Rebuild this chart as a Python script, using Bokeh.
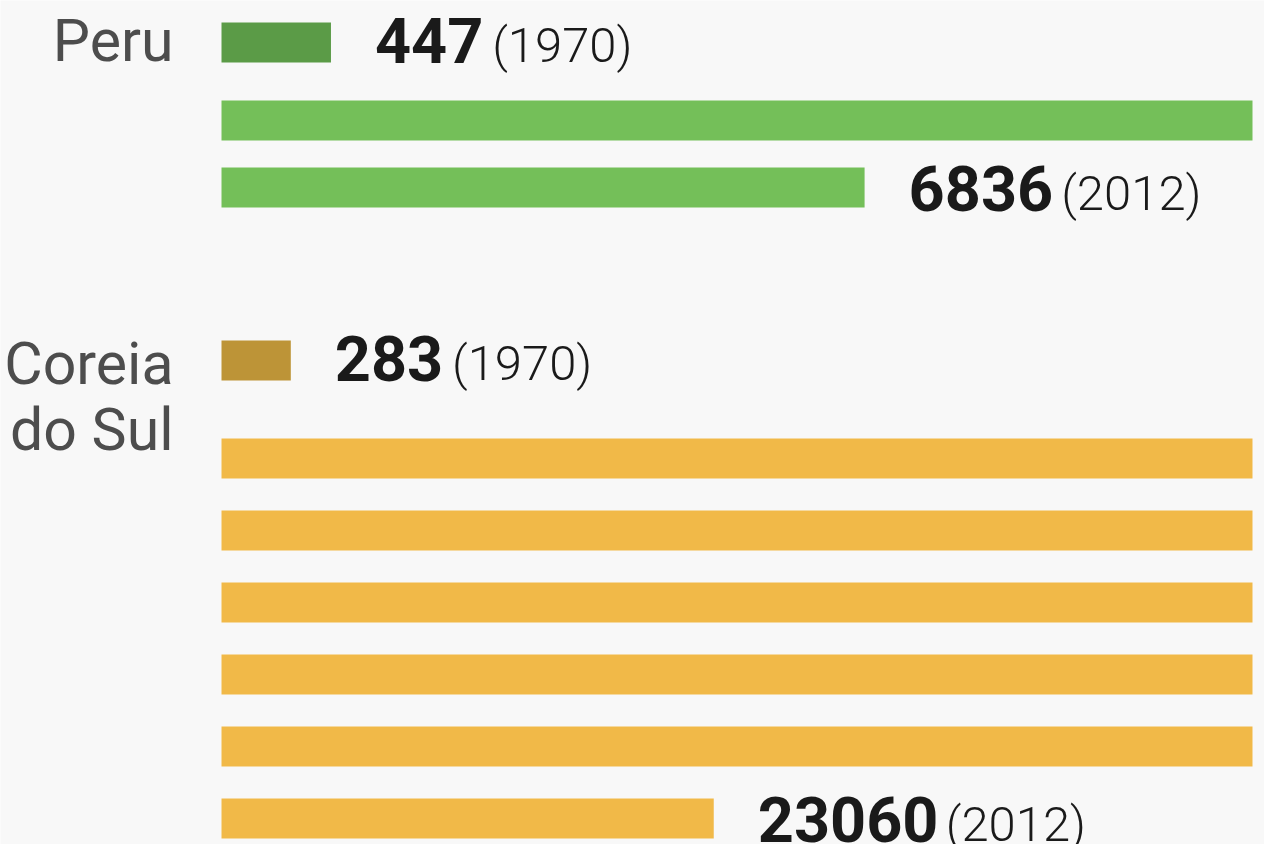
from bokeh.plotting import figure
from bokeh.models import Range1d, ColumnDataSource
from bokeh.core.properties import value
from bokeh.embed import file_html
from bokeh.resources import INLINE

# ---- data ----
countries = ["Peru", "Coreia\ndo Sul"]
values_1970 = [447, 283]
values_2012 = [6836, 23060]
year_a = "(1970)"
year_b = "(2012)"

# ---- style / layout ----
colors_1970 = ["#5b9b47", "#bd9437"]
colors_2012 = ["#74bf59", "#f1b948"]
ROW_CAP = 4210          # value represented by one full row
group_top = [22, 340]   # top of the 1970 bar (px)
first_gap = [78, 98]    # 1970 bar top -> first 2012 row top
row_step = [67, 72]
bar_h = [40, 40]
label_dy = [0, 5]       # country label baseline below the 1970 bar bottom
W, H = 1264, 844
ORIGIN_PX = 221
PX_PER_ROW = 1031
unit = ROW_CAP / PX_PER_ROW

BASE_K = 0.373          # renderer baseline correction (fraction of font size)
NUM_FONT = "Roboto"
NUM_SIZE = 63
DIGIT_ADV = 35.4
YEAR_FONT = "Roboto Light"
YEAR_SIZE = 49
LABEL_FONT = "Roboto"
LABEL_SIZE = 59
LINE_STEP = 66

p = figure(width=W, height=H, output_backend="svg", toolbar_location=None,
           x_range=Range1d(-ORIGIN_PX * unit, (W - ORIGIN_PX) * unit),
           y_range=Range1d(H, 0), min_border=0)
p.axis.visible = False
p.grid.visible = False
p.outline_line_color = None
p.background_fill_color = "#f8f8f8"
p.border_fill_color = "#f8f8f8"

bars = dict(left=[], right=[], top=[], bottom=[], color=[])
vals = dict(x=[], y=[], yy=[], text=[], ytext=[], yoff=[])
labs = dict(x=[], y=[], text=[])

def add_value(xv, baseline, txt, ytxt):
    vals["x"].append(xv)
    vals["y"].append(baseline - BASE_K * NUM_SIZE)
    vals["yy"].append(baseline - BASE_K * YEAR_SIZE)
    vals["text"].append(txt)
    vals["ytext"].append(ytxt)
    vals["yoff"].append(44 + len(txt) * DIGIT_ADV + 11)

for i, c in enumerate(countries):
    t = group_top[i]
    h = bar_h[i]
    # 1970 bar
    bars["left"].append(0); bars["right"].append(values_1970[i])
    bars["top"].append(t); bars["bottom"].append(t + h)
    bars["color"].append(colors_1970[i])
    add_value(values_1970[i], t + h + 1, str(values_1970[i]), year_a)
    # 2012 wrapped rows
    v = values_2012[i]
    full = int(v // ROW_CAP)
    rem = v - full * ROW_CAP
    rows = [ROW_CAP] * full + ([rem] if rem > 0 else [])
    for r, w in enumerate(rows):
        rt = t + first_gap[i] + r * row_step[i]
        bars["left"].append(0); bars["right"].append(w)
        bars["top"].append(rt); bars["bottom"].append(rt + h)
        bars["color"].append(colors_2012[i])
    last_t = t + first_gap[i] + (len(rows) - 1) * row_step[i]
    add_value(rows[-1], last_t + h + 4, str(v), year_b)
    for k, line in enumerate(c.split("\n")):
        labs["x"].append(0)
        labs["y"].append(t + h + label_dy[i] + k * LINE_STEP - BASE_K * LABEL_SIZE)
        labs["text"].append(line)

p.quad(left="left", right="right", top="top", bottom="bottom", color="color",
       source=ColumnDataSource(bars), line_color=None)

vs = ColumnDataSource(vals)
p.text(x="x", y="y", text="text", source=vs, x_offset=44,
       text_font=value(NUM_FONT), text_font_style="bold",
       text_font_size=f"{NUM_SIZE}px", text_color="#1a1a1a",
       text_baseline="alphabetic", text_align="left")
p.text(x="x", y="yy", text="ytext", source=vs, x_offset="yoff",
       text_font=value(YEAR_FONT), text_font_size=f"{YEAR_SIZE}px",
       text_color="#1a1a1a", text_baseline="alphabetic", text_align="left")

p.text(x="x", y="y", text="text", source=ColumnDataSource(labs), x_offset=-48,
       text_font=value(LABEL_FONT), text_font_size=f"{LABEL_SIZE}px",
       text_color="#4d4d4d", text_baseline="alphabetic", text_align="right")

open("out.html", "w").write(file_html(p, INLINE))
